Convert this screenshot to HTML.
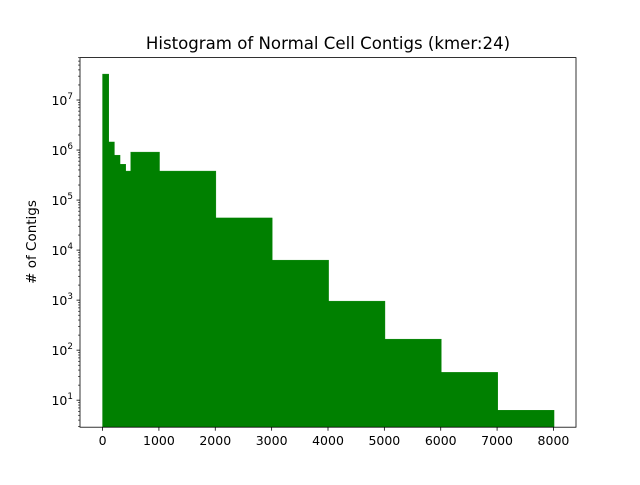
<!DOCTYPE html>
<html><head><meta charset="utf-8"><style>
body{margin:0;background:#fff;}
svg text{font-family:"DejaVu Sans","Liberation Sans",sans-serif;}
</style></head><body>
<svg id="chart" width="640" height="480" xmlns="http://www.w3.org/2000/svg">
<rect width="640" height="480" fill="#fff"/>
<text x="328" y="49" font-size="16.6" text-anchor="middle">Histogram of Normal Cell Contigs (kmer:24)</text>
<g id="bars"></g>
<g id="axes"></g>
<text transform="translate(36,242) rotate(-90)" font-size="13.5" text-anchor="middle"># of Contigs</text>
</svg>
<script>
const binEdges=[0,100,200,300,400,500,1000,2000,3000,4000,5000,6000,7000,8000];
const counts=[33000000,1450000,790000,520000,380000,910000,380000,44000,6300,955,166,36,6.3];
const xTicks=[0,1000,2000,3000,4000,5000,6000,7000,8000];
const yTickExps=[1,2,3,4,5,6,7];
const L=80,R=576,T=57.6,B=427.2;
const xMin=-400,xMax=8400,yMinL=0.46,yMaxL=7.848;
const ns="http://www.w3.org/2000/svg";
function X(v){return L+(v-xMin)/(xMax-xMin)*(R-L);}
function Y(v){return B-(Math.log10(v)-yMinL)/(yMaxL-yMinL)*(B-T);}
function mk(t,a,p){const e=document.createElementNS(ns,t);for(const k in a)e.setAttribute(k,a[k]);p.appendChild(e);return e;}
const bars=document.getElementById('bars'),axes=document.getElementById('axes');
counts.forEach((c,i)=>{
  const x0=X(binEdges[i]),x1=X(binEdges[i+1]),y=Y(c);
  const r=mk('rect',{x:x0,y:y,width:x1-x0+0.6,height:B-y,fill:'#008000',stroke:'#008000','stroke-width':0.4},bars);
  
  
});
const frame=mk('rect',{x:L,y:T,width:R-L,height:B-T,fill:'none',stroke:'#000','stroke-width':0.8},axes);


xTicks.forEach(v=>{
  const x=X(v);
  mk('line',{x1:x,x2:x,y1:B,y2:B+3.5,stroke:'#000','stroke-width':0.8},axes);
  const t=mk('text',{x:x,y:B+18,'font-size':12.5,'text-anchor':'middle'},axes);
  t.textContent=v;
  
  
});
for(let e=0;e<=7;e++){
  for(let m=2;m<=9;m++){
    const v=m*Math.pow(10,e);const lv=Math.log10(v);
    if(lv<yMinL||lv>yMaxL)continue;
    const y=Y(v);
    mk('line',{x1:L-2,x2:L,y1:y,y2:y,stroke:'#000','stroke-width':0.6},axes);
  }
}
yTickExps.forEach(e=>{
  const y=Y(Math.pow(10,e));
  mk('line',{x1:L-3.5,x2:L,y1:y,y2:y,stroke:'#000','stroke-width':0.8},axes);
  const t=mk('text',{x:L-7,y:y+5,'font-size':12.5,'text-anchor':'end'},axes);
  
  
  const a=document.createElementNS(ns,'tspan');a.textContent='10';t.appendChild(a);
  const b=document.createElementNS(ns,'tspan');b.setAttribute('font-size','8.8');b.setAttribute('dy','-6');b.textContent=e;t.appendChild(b);
});
</script>
</body></html>
